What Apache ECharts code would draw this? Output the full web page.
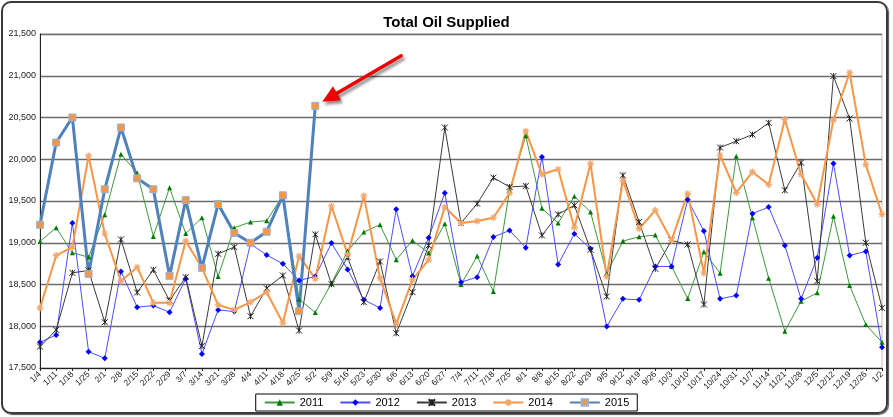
<!DOCTYPE html>
<html>
<head>
<meta charset="utf-8">
<script src="https://cdn.jsdelivr.net/npm/echarts@6/dist/echarts.min.js"></script>
<style>
html,body{margin:0;padding:0;background:#fff;}
#frame{position:absolute;left:1px;top:1px;width:887px;height:413px;box-sizing:border-box;border:2px solid #3a3a3a;border-radius:10px;box-shadow:1px 1px 1px #555;}
#chart{position:absolute;left:0;top:0;width:893px;height:417px;}
</style>
</head>
<body>
<div id="frame"></div>
<div id="chart"></div>
<script>
const categories = ['1/4','1/11','1/18','1/25','2/1','2/8','2/15','2/22','2/29','3/7','3/14','3/21','3/28','4/4','4/11','4/18','4/25','5/2','5/9','5/16','5/23','5/30','6/6','6/13','6/20','6/27','7/4','7/11','7/18','7/25','8/1','8/8','8/15','8/22','8/29','9/5','9/12','9/19','9/26','10/3','10/10','10/17','10/24','10/31','11/7','11/14','11/21','11/28','12/5','12/12','12/19','12/26','1/2'];

const values2011 = [19016,19180,18880,18828,19336,20060,19836,19076,19660,19110,19300,18596,19180,19248,19264,19568,18324,18165,18515,18900,19128,19216,18796,19028,18876,19228,18500,18840,18416,19628,20280,19412,19236,19556,19368,18632,19020,19072,19092,18720,18332,18892,18636,20036,19300,18576,17940,18300,18400,19316,18488,18020,17808];
const values2012 = [17808,17896,19236,17696,17616,18656,18228,18248,18168,18570,17668,18196,18176,18988,18852,18748,18548,18596,18996,18680,18316,18220,19400,18600,19060,19596,18528,18588,19068,19148,18940,20028,18740,19108,18928,17996,18328,18316,18716,18716,19516,19140,18328,18368,19348,19428,18968,18328,18820,19948,18848,18896,17748];
const values2013 = [17756,17956,18640,18668,18048,19040,18404,18676,18308,18588,17764,18868,18948,18120,18456,18608,17948,19100,18504,18828,18288,18776,17916,18408,18968,20380,19236,19468,19780,19668,19680,19088,19340,19448,18916,18356,19808,19248,18688,19028,18980,18260,20140,20216,20296,20436,19628,19960,18540,20996,20488,19000,18220];
const values2014 = [18220,18848,18948,20040,19108,18540,18708,18280,18280,19020,18700,18256,18196,18288,18408,18040,18840,18570,19440,18860,19560,18576,18028,18556,18796,19428,19236,19260,19300,19596,20336,19820,19880,19180,19948,18596,19748,19168,19388,19028,19588,18636,20048,19600,19848,19696,20476,19820,19460,20468,21036,19936,19340];
const values2015 = [19216,20200,20500,18628,19640,20380,19772,19640,18604,19510,18700,19465,19116,19000,19132,19568,18180,20640];

const seriesNames = ['2011','2012','2013','2014','2015'];
const yTicks = {min:17500, max:21500, interval:500};
const highlightIndex = 17; // 5/2 point of 2015

const FONT = 'Arial, "Liberation Sans", sans-serif';
const chart = echarts.init(document.getElementById('chart'), null, {renderer:'canvas'});

const starPath = 'path://M0,0L10,10M10,0L0,10M5,0L5,10';
const plusStar = 'path://M5,0L5,10M0,5L10,5M1.5,1.5L8.5,8.5M8.5,1.5L1.5,8.5';

chart.setOption({
  animation:false,
  backgroundColor:'transparent',
  title:{text:'Total Oil Supplied', left:'center', top:10,
    textStyle:{fontFamily:FONT, fontSize:15, fontWeight:'bold', color:'#000'}},
  legend:{
    bottom:6, left:'center',
    data:seriesNames,
    borderColor:'#000', borderWidth:1, padding:[3,8,3,8],
    itemWidth:30, itemHeight:8, itemGap:16,
    textStyle:{fontFamily:FONT, fontSize:11, color:'#000'}
  },
  grid:{left:40, top:34, right:11, bottom:49, show:true, borderColor:'#c0c0c0', borderWidth:1},
  xAxis:{
    type:'category', data:categories, boundaryGap:false,
    axisLine:{lineStyle:{color:'#222', width:1}},
    axisTick:{show:true, length:3, lineStyle:{color:'#222'}},
    axisLabel:{rotate:45, interval:0, fontFamily:FONT, fontSize:8.5, color:'#222', margin:5},
    splitLine:{show:false}
  },
  yAxis:{
    type:'value', min:yTicks.min, max:yTicks.max, interval:yTicks.interval,
    axisLine:{show:true, lineStyle:{color:'#222', width:1}},
    axisTick:{show:false},
    axisLabel:{fontFamily:FONT, fontSize:9, color:'#222', margin:4,
      formatter:v=>v.toLocaleString('en-US')},
    splitLine:{lineStyle:{color:'#6b6b6b', width:1.3}}
  },
  series:[
    {name:'2011', type:'line', data:values2011, symbol:'triangle', symbolSize:5,
      lineStyle:{color:'#3a9a3a', width:1}, itemStyle:{color:'#007a00'}},
    {name:'2012', type:'line', data:values2012, symbol:'diamond', symbolSize:6,
      lineStyle:{color:'#4d4dff', width:1}, itemStyle:{color:'#0000ff'}},
    {name:'2013', type:'line', data:values2013, symbol:starPath, symbolSize:6,
      lineStyle:{color:'#3a3a3a', width:1}, itemStyle:{color:'#222', borderColor:'#222', borderWidth:1}},
    {name:'2014', type:'line', data:values2014, symbol:plusStar, symbolSize:7,
      lineStyle:{color:'#f79646', width:2}, itemStyle:{color:'#f4b183', borderColor:'#f2a76e', borderWidth:1.2}},
    {name:'2015', type:'line', data:values2015, symbol:'rect', symbolSize:7,
      lineStyle:{color:'#4f81bd', width:3}, itemStyle:{color:'#f79646', borderColor:'#95b3d7', borderWidth:1}}
  ]
});

// red arrow annotation pointing at the 5/2 2015 value
const p = chart.convertToPixel({gridIndex:0}, [categories[highlightIndex], values2015[highlightIndex]]);
const tip = [p[0]+7, p[1]-4];
const tail = [p[0]+86, p[1]-50];
const dx = tip[0]-tail[0], dy = tip[1]-tail[1];
const L = Math.sqrt(dx*dx+dy*dy);
const ux = dx/L, uy = dy/L;
const hl = 17, hw = 8;
const base = [tip[0]-ux*hl, tip[1]-uy*hl];
const px = -uy*hw, py = ux*hw;
const shadow = {shadowBlur:3, shadowColor:'rgba(0,0,0,0.45)', shadowOffsetX:2, shadowOffsetY:3};
chart.setOption({
  graphic:[
    {type:'line', shape:{x1:tail[0], y1:tail[1], x2:base[0]+ux*2, y2:base[1]+uy*2},
      style:Object.assign({stroke:'#ee0000', lineWidth:3.5, lineCap:'round'}, shadow), z:100},
    {type:'polygon', shape:{points:[tip, [base[0]+px, base[1]+py], [base[0]-px, base[1]-py]]},
      style:Object.assign({fill:'#ee0000'}, shadow), z:100}
  ]
});
</script>
</body>
</html>
